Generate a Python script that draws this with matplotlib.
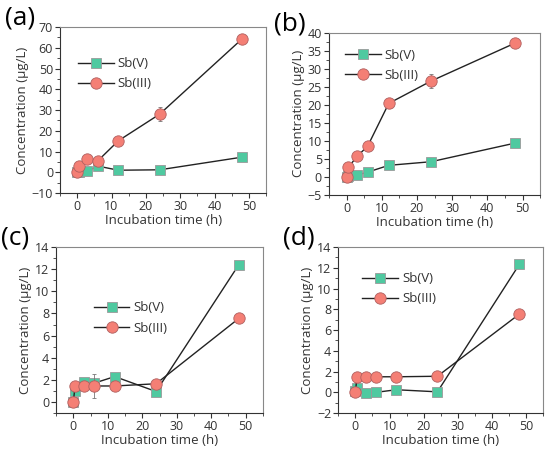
import matplotlib.pyplot as plt
from matplotlib.ticker import AutoMinorLocator

plt.rcParams['font.family'] = ['Open Sans', 'DejaVu Sans']

# sampling times (h)
t = [0, 0.5, 3, 6, 12, 24, 48]

# (a)
a_v = [0, 0.3, 0.5, 3.0, 1.0, 1.2, 7.3]
a_v_err = [0.3, 0.3, 0.5, 0.8, 0.8, 1.2, 0.8]
a_iii = [0, 3.0, 6.3, 5.5, 15.2, 28.0, 64.3]
a_iii_err = [0.5, 0.8, 1.5, 1.2, 1.8, 3.5, 1.0]

# (b)
b_v = [0, 0.1, 0.5, 1.3, 3.2, 4.2, 9.4]
b_v_err = [0.2, 0.2, 0.4, 0.8, 0.6, 0.7, 0.5]
b_iii = [0, 2.6, 5.7, 8.5, 20.4, 26.6, 37.2]
b_iii_err = [0.3, 0.5, 1.0, 1.3, 1.2, 2.0, 0.6]

# (c)
c_v = [0, 1.0, 1.8, 1.7, 2.3, 0.95, 12.4]
c_v_err = [0.1, 0.2, 0.2, 0.3, 0.2, 0.2, 0.2]
c_iii = [0, 1.45, 1.45, 1.45, 1.45, 1.65, 7.55]
c_iii_err = [0.1, 0.3, 0.4, 1.1, 0.3, 0.2, 0.2]

# (d)
d_v = [0.1, 0.4, -0.1, 0.0, 0.25, 0.05, 12.35]
d_v_err = [0.5, 0.2, 0.3, 0.3, 0.3, 0.2, 0.2]
d_iii = [0, 1.5, 1.5, 1.5, 1.5, 1.55, 7.55]
d_iii_err = [0.1, 0.3, 0.3, 0.3, 0.3, 0.3, 0.2]

green = '#4fc9a0'
red = '#f47f75'

panels = [
    ('(a)', a_v, a_v_err, a_iii, a_iii_err, (-10, 70), -10, 10, [0.109, 0.571, 0.375, 0.369], (0.03, 0.89)),
    ('(b)', b_v, b_v_err, b_iii, b_iii_err, (-5, 40), -5, 5, [0.598, 0.567, 0.384, 0.36], (0.02, 0.975)),
    ('(c)', c_v, c_v_err, c_iii, c_iii_err, (-1, 14), 0, 2, [0.102, 0.082, 0.376, 0.369], (0.125, 0.745)),
    ('(d)', d_v, d_v_err, d_iii, d_iii_err, (-2, 14), -2, 2, [0.615, 0.082, 0.373, 0.369], (0.06, 0.92)),
]

fig = plt.figure(figsize=(5.5, 4.5), dpi=100)

for lab, v, ve, iii, iiie, ylim, y0, ystep, pos, lpos in panels:
    ax = fig.add_axes(pos)
    ax.errorbar(t, v, yerr=ve, color='#222222', lw=1, marker='s', ms=7.5,
                mfc=green, mec='#9a9a9a', mew=0.6, ecolor='#777777', elinewidth=0.6,
                capsize=1.5, label='Sb(V)', zorder=3)
    ax.errorbar(t, iii, yerr=iiie, color='#222222', lw=1, marker='o', ms=8.2,
                mfc=red, mec='#b06060', mew=0.6, ecolor='#777777', elinewidth=0.6,
                capsize=1.5, label='Sb(III)', zorder=4)
    ax.set_xlim(-5, 55)
    ax.set_ylim(*ylim)
    ax.set_xticks(range(0, 51, 10))
    ax.set_yticks(range(y0, ylim[1] + 1, ystep))
    ax.xaxis.set_minor_locator(AutoMinorLocator(2))
    ax.yaxis.set_minor_locator(AutoMinorLocator(2))
    ax.spines['left'].set_color('#333333')
    ax.spines['bottom'].set_color('#333333')
    ax.spines['top'].set_color('#888888')
    ax.spines['right'].set_color('#888888')
    ax.tick_params(which='both', direction='out', colors='#333333', labelcolor='#333333',
                   labelsize=9, top=False, right=False, pad=1.5)
    ax.tick_params(which='major', length=3.5)
    ax.tick_params(which='minor', length=2)
    ax.set_xlabel('Incubation time (h)', fontsize=9.5, color='#333333', labelpad=1)
    ax.set_ylabel('Concentration (\u03bcg/L)', fontsize=9.5, color='#333333', labelpad=2)
    handles, labels = ax.get_legend_handles_labels()
    handles = [h[0] for h in handles]
    ax.legend(handles, labels, loc='upper left', bbox_to_anchor=lpos, frameon=False,
              fontsize=9.5, handlelength=2.7, labelspacing=0.55, handletextpad=0.3,
              labelcolor='#333333')
    fig.text(pos[0] - 0.1, pos[1] + pos[3] + 0.02, lab, fontsize=19, ha='left', va='center')

fig.savefig('out.png', dpi=100)
